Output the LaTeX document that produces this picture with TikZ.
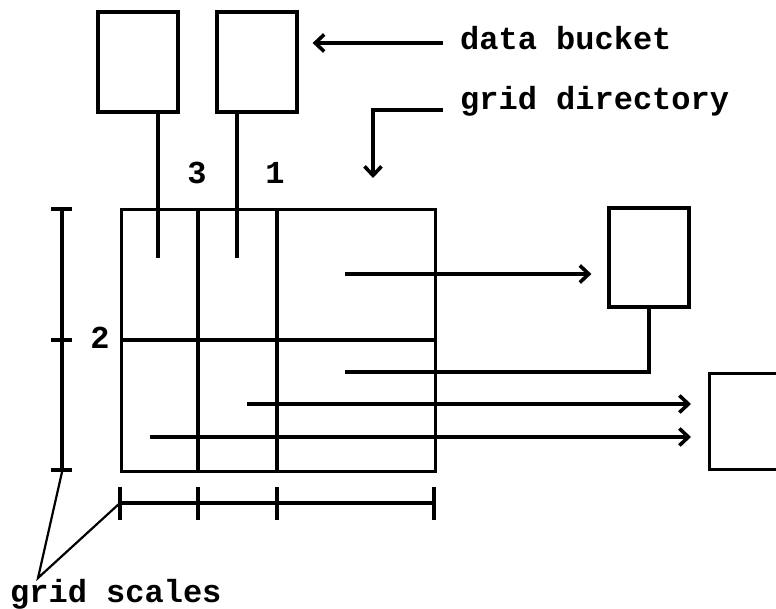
\documentclass[tikz,border=0pt]{standalone}
\usepackage{fontspec}
\newfontfamily\cour{Liberation Mono}
\usetikzlibrary{arrows.meta}
\begin{document}
\begin{tikzpicture}[x=1pt,y=-1pt,
  ln/.style={line width=3.2pt},
  box/.style={draw,line width=3.2pt,rectangle,minimum width=80pt,minimum height=100pt,inner sep=0pt},
  lbl/.style={font=\cour\bfseries\fontsize{32}{34}\selectfont,inner sep=0pt},
  chev/.style={-{Straight Barb[length=9pt,width=17pt,sep=4pt,line width=3.6pt]}},
  tick/.style={line width=3.2pt}]
\useasboundingbox (0,0) rectangle (776,609);
\clip (0,0) rectangle (776,609);
% data buckets
\node[box] (b1) at (138,62) {};
\node[box] (b2) at (257,62) {};
\node[box,minimum height=99pt] (b3) at (649,257.5) {};
\node[box,minimum width=100pt,minimum height=96pt,anchor=north west] (b4) at (708,372) {};
% grid directory
\node[draw,line width=3.2pt,rectangle,minimum width=314pt,minimum height=262pt,inner sep=0pt,anchor=north west] (grid) at (120,208) {};
\draw[ln] (198,208) -- (198,470);
\draw[ln] (277,208) -- (277,470);
\draw[ln] (120,340) -- (434,340);
% pointers inside the grid
\coordinate (c1) at (158,258);
\coordinate (c2) at (237,258);
\coordinate (c3) at (345,274);
\coordinate (c4) at (345,372);
\coordinate (c5) at (247,404);
\coordinate (c6) at (150,437);
\draw[ln] (b1.south -| c1) -- (c1);
\draw[ln] (b2.south -| c2) -- (c2);
\draw[ln,chev,shorten >=12pt] (c3) -- (c3 -| b3.west);
\draw[ln] (c4) -| (b3.south);
\draw[ln,chev,shorten >=13pt] (c5) -- (c5 -| b4.west);
\draw[ln,chev,shorten >=13pt] (c6) -- (c6 -| b4.west);
% labels
\node[lbl,anchor=base west] (db) at (460,50) {data bucket};
\node[lbl,anchor=base west] (gd) at (460,110) {grid directory};
\coordinate (dbl) at (443,43);
\coordinate (gdl) at (443,110);
\coordinate (gdt) at (373,182);
\draw[ln,chev,shorten >=10pt] (dbl) -- (dbl -| b2.east);
\draw[ln,chev] (gdl) -| (gdt);
\node[lbl] (n3) at (197,173) {3};
\node[lbl] (n1) at (275,173) {1};
\node[lbl] (n2) at (100,338) {2};
% grid scales
\draw[ln] (62,209) -- (62,470);
\foreach \y in {209,340,470} \draw[tick] (51,\y) -- (72,\y);
\draw[ln] (120,503) -- (434,503);
\foreach \x in {120,198,277,434} \draw[tick] (\x,487) -- (\x,520);
\node[lbl,anchor=base west] (gs) at (10,602) {grid scales};
\coordinate (gsp) at (38,578);
\coordinate (sv) at (62,472);
\coordinate (sh) at (120,503);
\draw[line width=2.2pt] (sv) -- (gsp) -- (sh);
\end{tikzpicture}
\end{document}
